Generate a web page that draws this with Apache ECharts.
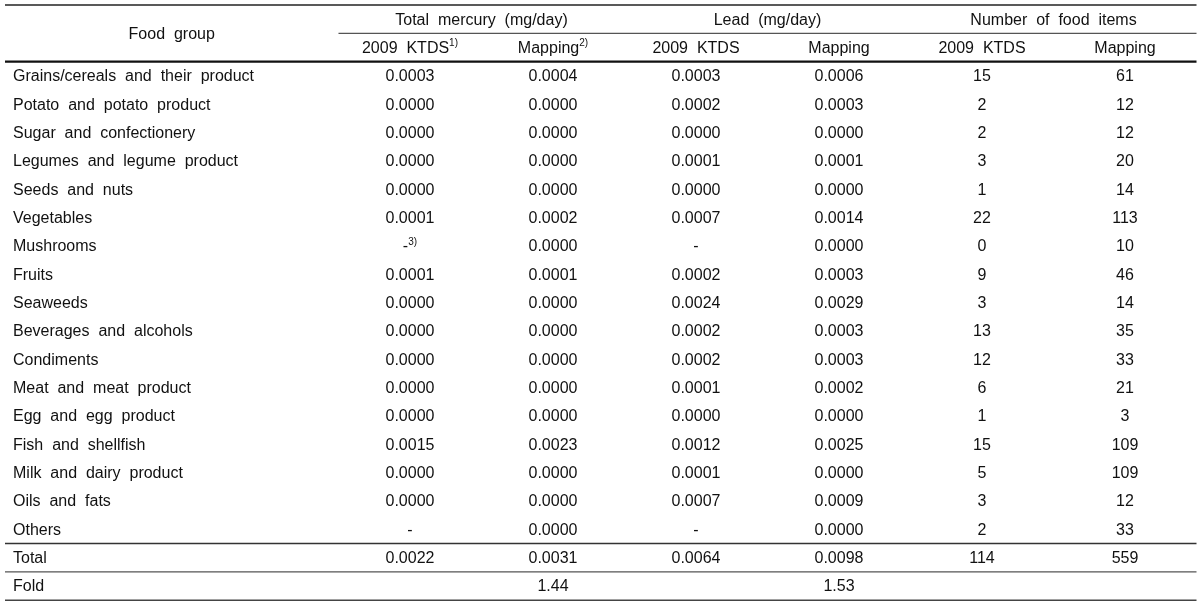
<!DOCTYPE html>
<html><head><meta charset="utf-8">
<script src="https://cdn.jsdelivr.net/npm/echarts@6/dist/echarts.min.js"></script>
<style>html,body{margin:0;padding:0;background:#fff}#c{width:1200px;height:604px}</style>
</head><body><div id="c"></div>
<script>
// ---------- DATA ----------
const foodGroups = ['Grains/cereals and their product','Potato and potato product','Sugar and confectionery','Legumes and legume product','Seeds and nuts','Vegetables','Mushrooms','Fruits','Seaweeds','Beverages and alcohols','Condiments','Meat and meat product','Egg and egg product','Fish and shellfish','Milk and dairy product','Oils and fats','Others'];
const mercuryKTDS    = [0.0003,0.0000,0.0000,0.0000,0.0000,0.0001,null,0.0001,0.0000,0.0000,0.0000,0.0000,0.0000,0.0015,0.0000,0.0000,null];
const mercuryMapping = [0.0004,0.0000,0.0000,0.0000,0.0000,0.0002,0.0000,0.0001,0.0000,0.0000,0.0000,0.0000,0.0000,0.0023,0.0000,0.0000,0.0000];
const leadKTDS       = [0.0003,0.0002,0.0000,0.0001,0.0000,0.0007,null,0.0002,0.0024,0.0002,0.0002,0.0001,0.0000,0.0012,0.0001,0.0007,null];
const leadMapping    = [0.0006,0.0003,0.0000,0.0001,0.0000,0.0014,0.0000,0.0003,0.0029,0.0003,0.0003,0.0002,0.0000,0.0025,0.0000,0.0009,0.0000];
const itemsKTDS      = [15,2,2,3,1,22,0,9,3,13,12,6,1,15,5,3,2];
const itemsMapping   = [61,12,12,20,14,113,10,46,14,35,33,21,3,109,109,12,33];
const totalRow = [0.0022,0.0031,0.0064,0.0098,114,559];
const foldRow  = [null,1.44,null,1.53,null,null];
const firstHeader = 'Food group';
const groupHeaders = ['Total mercury (mg/day)','Lead (mg/day)','Number of food items'];
const subHeaders = ['2009 KTDS','Mapping','2009 KTDS','Mapping','2009 KTDS','Mapping'];
const subHeaderNotes = ['1)','2)','','','',''];
const rowNotes = {6: '3)'};  // Mushrooms, mercury 2009 KTDS
const totalLabel = 'Total', foldLabel = 'Fold';

// ---------- LAYOUT ----------
const FIRST = 2.332;           // width of first column in data-column units
const TABLE_W = FIRST + 6;
const FONT = "'Liberation Sans', Arial, sans-serif";
const rows = ['h1','h2'].concat(foodGroups, [totalLabel, foldLabel]);
const colData = [mercuryKTDS, mercuryMapping, leadKTDS, leadMapping, itemsKTDS, itemsMapping];
const colDigits = [4,4,4,4,0,0];
const fmt = (v, d) => v === null || v === undefined ? '-' : v.toFixed(d);
const colX = k => FIRST + k + 0.5;
const wide = s => s.replace(/ /g, '  ');   // the source typesets with wide word spacing

const cells = [];
cells.push({x: FIRST/2, row: 0, dy: 0.5, text: firstHeader});
groupHeaders.forEach((g, i) => cells.push({x: FIRST + 1 + 2*i, row: 0, text: g}));
subHeaders.forEach((s, k) => cells.push({x: colX(k), row: 1, text: s, sup: subHeaderNotes[k]}));
foodGroups.forEach((f, i) => {
  const r = i + 2;
  cells.push({x: 0.056, row: r, text: f, align: 'left'});
  colData.forEach((arr, k) => {
    cells.push({x: colX(k), row: r, text: fmt(arr[i], colDigits[k]), sup: (k === 0 && rowNotes[i]) ? rowNotes[i] : ''});
  });
});
cells.push({x: 0.056, row: 19, text: totalLabel, align: 'left'});
totalRow.forEach((v, k) => cells.push({x: colX(k), row: 19, text: fmt(v, colDigits[k])}));
cells.push({x: 0.056, row: 20, text: foldLabel, align: 'left'});
foldRow.forEach((v, k) => { if (v !== null) cells.push({x: colX(k), row: 20, text: v.toFixed(2)}); });

const rules = [
  {x0: 0, x1: TABLE_W, row: 0, side: -1, w: 1.3, c: '#222'},
  {x0: FIRST, x1: TABLE_W, row: 0, side: 1, w: 1.2, c: '#555'},
  {x0: 0, x1: TABLE_W, row: 1, side: 1, w: 2.2, c: '#111'},
  {x0: 0, x1: TABLE_W, row: 18, side: 1, w: 1.3, c: '#333'},
  {x0: 0, x1: TABLE_W, row: 19, side: 1, w: 1.3, c: '#555'},
  {x0: 0, x1: TABLE_W, row: 20, side: 1, w: 1.5, c: '#444'}
];

const chart = echarts.init(document.getElementById('c'), null, {renderer: 'canvas'});
chart.setOption({
  animation: false,
  backgroundColor: '#fff',
  grid: {left: 5, right: 3.5, top: 5, bottom: 3.8},
  xAxis: {type: 'value', min: 0, max: TABLE_W, show: false},
  yAxis: {type: 'category', data: rows, inverse: true, show: false},
  series: [
    {
      type: 'custom', silent: true, clip: false,
      data: rules.map(r => [r.x0, r.row]),
      renderItem: (params, api) => {
        const r = rules[params.dataIndex];
        const band = api.size([0, 1])[1];
        const p0 = api.coord([r.x0, r.row]);
        const p1 = api.coord([r.x1, r.row]);
        const y = p0[1] + r.side * band / 2;
        return {type: 'line', shape: {x1: p0[0], y1: y, x2: p1[0], y2: y}, style: {stroke: r.c, lineWidth: r.w}};
      }
    },
    {
      type: 'custom', silent: true, clip: false,
      data: cells.map(c => [c.x, c.row]),
      renderItem: (params, api) => {
        const c = cells[params.dataIndex];
        const band = api.size([0, 1])[1];
        const p = api.coord([c.x, c.row]);
        const y = p[1] + (c.dy || 0) * band + 1;
        const t = wide(c.text);
        const text = c.sup ? '{m|' + t + '}{s|' + c.sup + '}' : '{m|' + t + '}';
        return {
          type: 'text', x: p[0], y: y,
          style: {
            text: text, align: c.align || 'center', verticalAlign: 'middle',
            rich: {
              m: {fontSize: 16, fontFamily: FONT, fill: '#111', lineHeight: 20},
              s: {fontSize: 10, fontFamily: FONT, fill: '#111', lineHeight: 10, verticalAlign: 'top'}
            }
          }
        };
      }
    }
  ]
});
</script></body></html>
